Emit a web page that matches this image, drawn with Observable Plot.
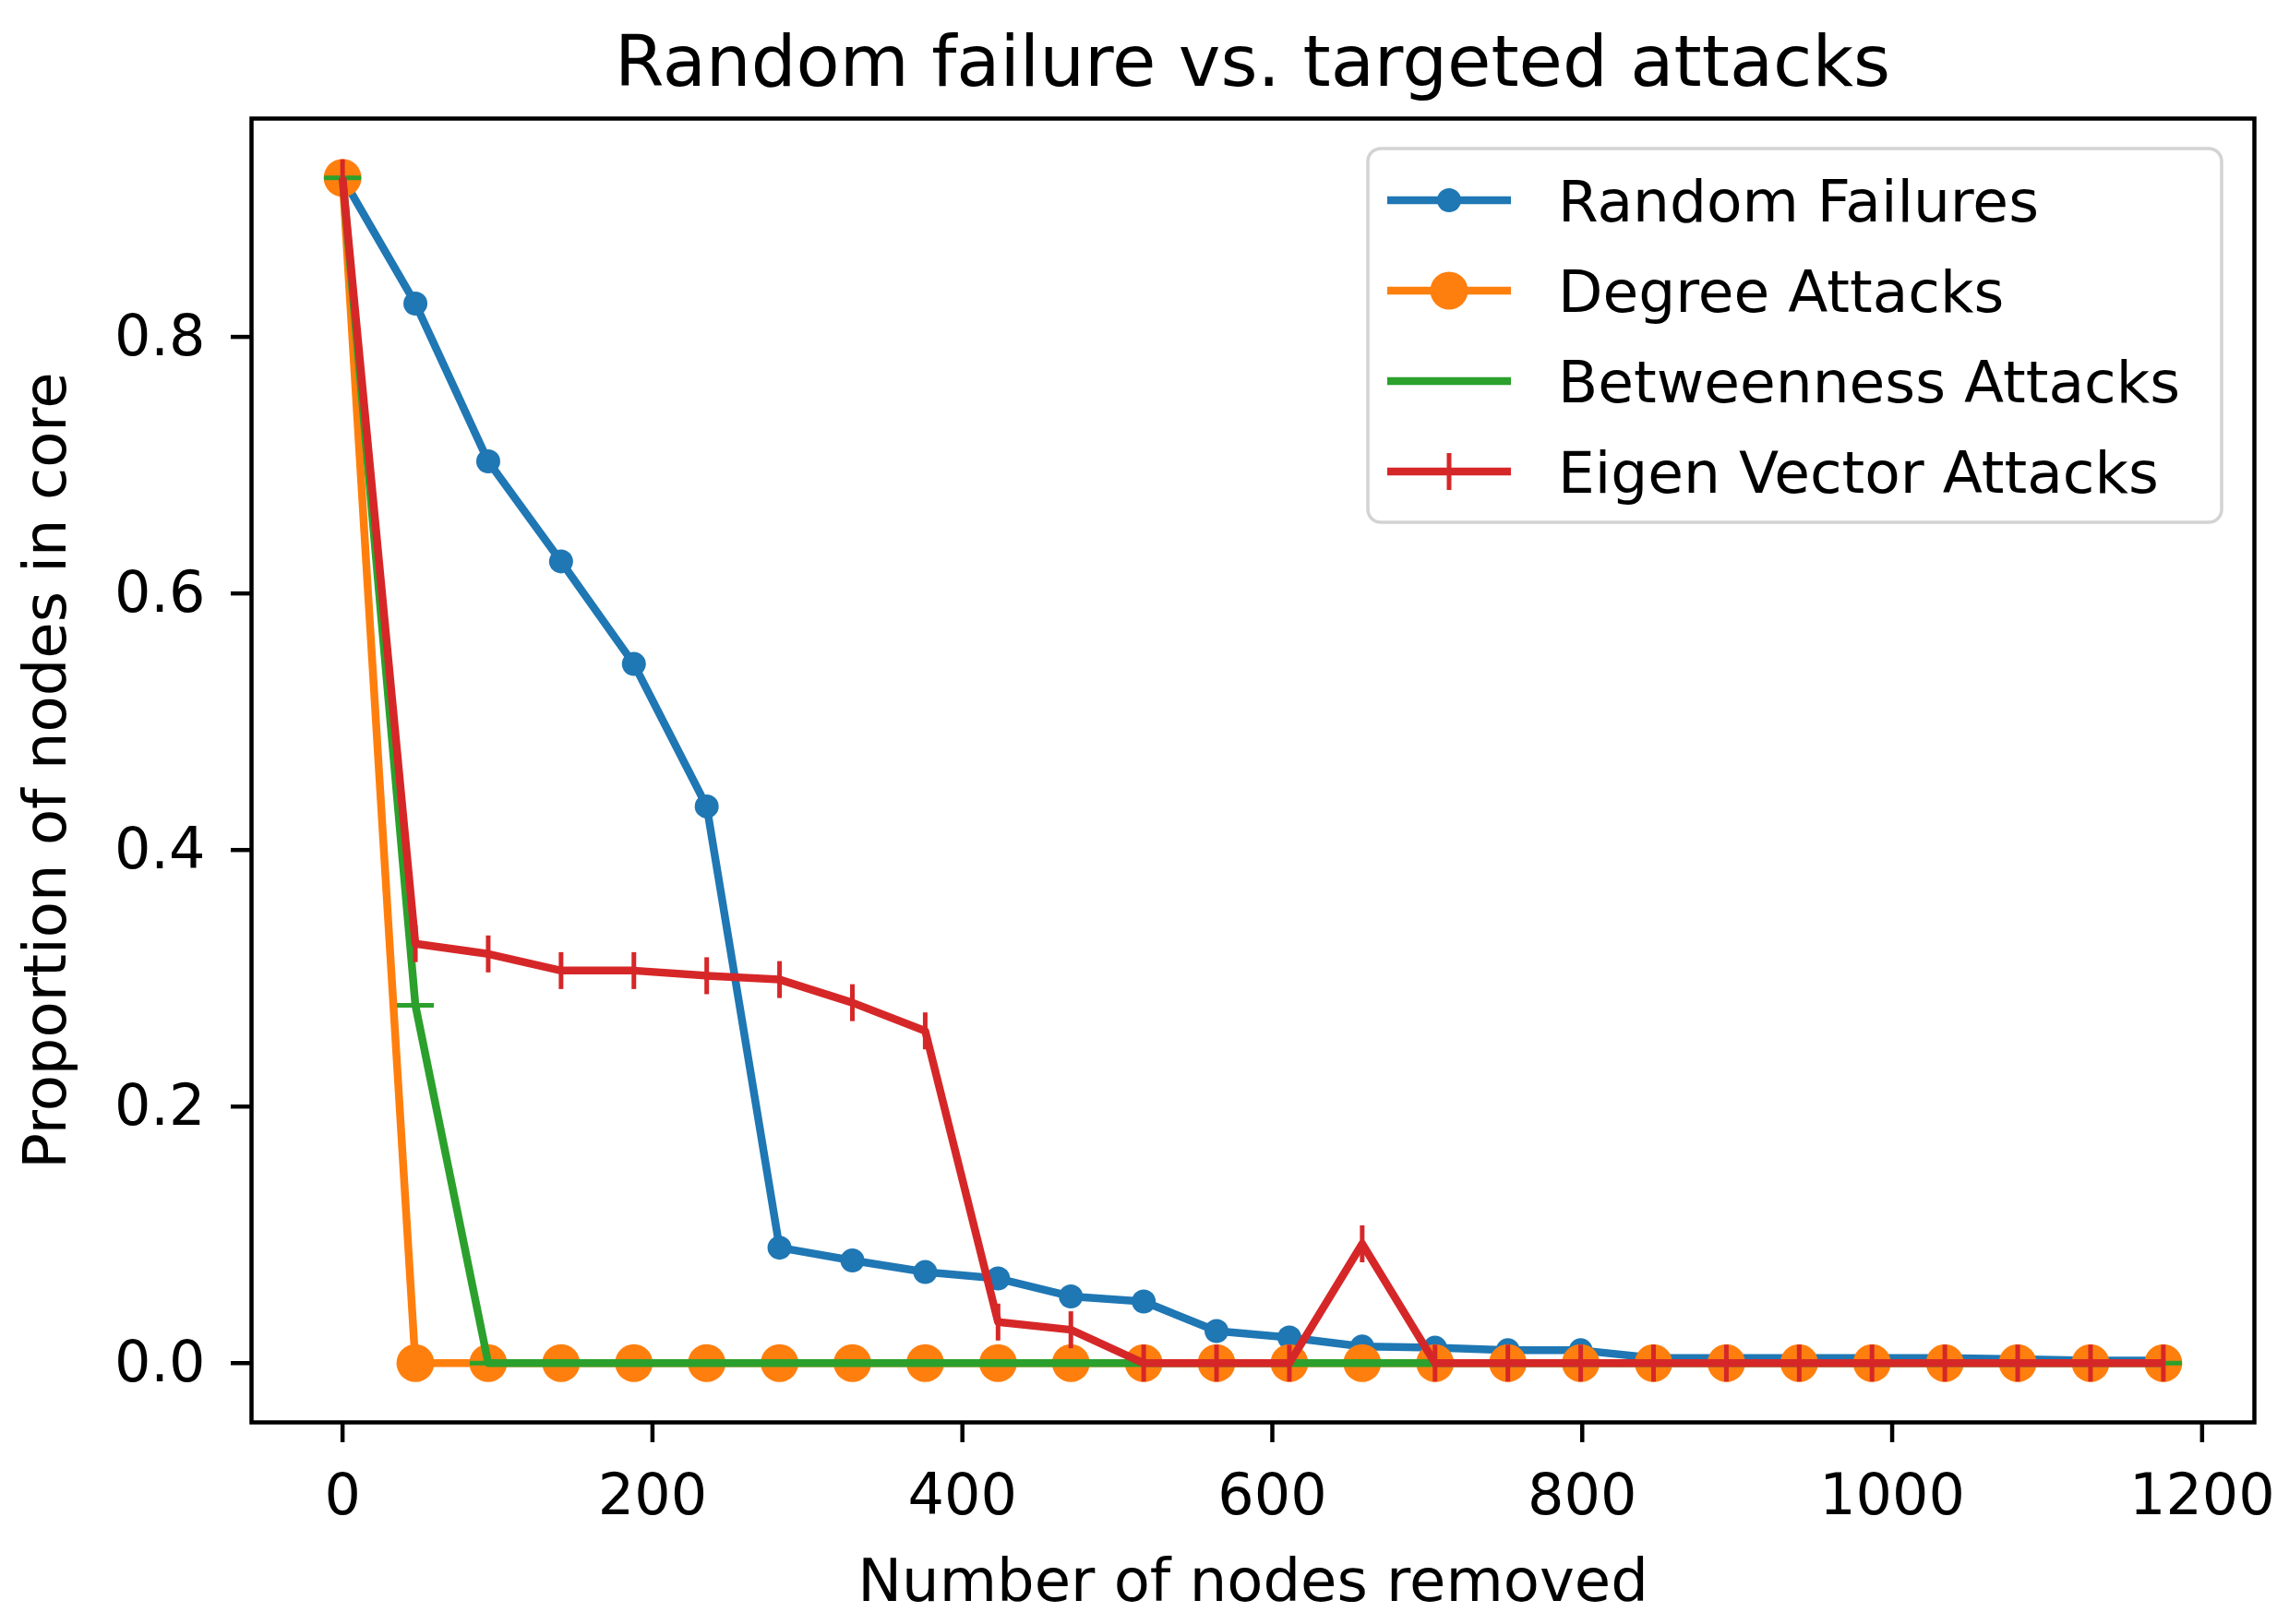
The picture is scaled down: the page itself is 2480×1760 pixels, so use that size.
<!DOCTYPE html>
<html>
<head>
<meta charset="utf-8">
<script src="https://cdn.jsdelivr.net/npm/d3@7"></script>
<script src="https://cdn.jsdelivr.net/npm/@observablehq/plot@0.6"></script>
<style>
  html, body { margin: 0; padding: 0; background: #ffffff; }
  #wrap { position: relative; width: 2480px; height: 1760px; overflow: hidden; font-family: "DejaVu Sans", sans-serif; background: #fff; }
  #title { position: absolute; left: 272px; width: 2170px; top: 28px; height: 77px; line-height: 77px; font-size: 77px; text-align: center; color: #000; white-space: nowrap; }
  #chart { position: absolute; left: 0; top: 110px; }
</style>
</head>
<body>
<div id="wrap">
  <div id="title">Random failure vs. targeted attacks</div>
  <div id="chart"></div>
</div>
<script>
// ---- data ----
const nodesRemoved = [0, 47, 94, 141, 188, 235, 282, 329, 376, 423, 470, 517, 564, 611, 658, 705, 752, 799, 846, 893, 940, 987, 1034, 1081, 1128, 1175];
const randomFailures = [0.924, 0.826, 0.703, 0.625, 0.545, 0.434, 0.090, 0.080, 0.071, 0.066, 0.052, 0.048, 0.025, 0.020, 0.013, 0.012, 0.010, 0.010, 0.004, 0.004, 0.004, 0.004, 0.004, 0.003, 0.002, 0.002];
const degreeAttacks = [0.924, 0, 0, 0, 0, 0, 0, 0, 0, 0, 0, 0, 0, 0, 0, 0, 0, 0, 0, 0, 0, 0, 0, 0, 0, 0];
const betweennessAttacks = [0.924, 0.279, 0, 0, 0, 0, 0, 0, 0, 0, 0, 0, 0, 0, 0, 0, 0, 0, 0, 0, 0, 0, 0, 0, 0, 0];
const eigenVectorAttacks = [0.924, 0.327, 0.319, 0.306, 0.306, 0.302, 0.299, 0.281, 0.259, 0.032, 0.026, 0, 0, 0, 0.093, 0, 0, 0, 0, 0, 0, 0, 0, 0, 0, 0];
const seriesNames = ["Random Failures", "Degree Attacks", "Betweenness Attacks", "Eigen Vector Attacks"];
const seriesColors = ["#1f77b4", "#ff7f0e", "#2ca02c", "#d62728"];
const seriesMarkers = ["point", "circle", "hline", "vline"];
const xTicks = [0, 200, 400, 600, 800, 1000, 1200];
const yTicks = [0.0, 0.2, 0.4, 0.6, 0.8];
const titleText = "Random failure vs. targeted attacks";
const xLabel = "Number of nodes removed";
const yLabel = "Proportion of nodes in core";

const seriesValues = [randomFailures, degreeAttacks, betweennessAttacks, eigenVectorAttacks];
document.getElementById("title").textContent = titleText;

// ---- custom matplotlib-like markers ----
const hlineSymbol = {draw(ctx, size) { const r = Math.sqrt(size / Math.PI); ctx.moveTo(-r, 0); ctx.lineTo(r, 0); }};
const vlineSymbol = {draw(ctx, size) { const r = Math.sqrt(size / Math.PI); ctx.moveTo(0, -r); ctx.lineTo(0, r); }};

const LINE_W = 8.5;
function markerOptions(kind, color) {
  if (kind === "point") return {r: 13, fill: color, stroke: "none", symbol: "circle"};
  if (kind === "circle") return {r: 20.5, fill: color, stroke: "none", symbol: "circle"};
  if (kind === "hline") return {r: 20, symbol: hlineSymbol, stroke: color, strokeWidth: 5, fill: "none"};
  return {r: 20, symbol: vlineSymbol, stroke: color, strokeWidth: 5, fill: "none"};
}

const marks = [];
seriesNames.forEach((name, k) => {
  const rows = nodesRemoved.map((x, i) => ({x, y: seriesValues[k][i], series: name}));
  marks.push(Plot.line(rows, {x: "x", y: "y", stroke: seriesColors[k], strokeWidth: LINE_W, strokeLinejoin: "round", strokeLinecap: "butt"}));
  marks.push(Plot.dot(rows, {x: "x", y: "y", ...markerOptions(seriesMarkers[k], seriesColors[k])}));
});

const xMin = d3.min(nodesRemoved), xMax = d3.max(nodesRemoved);
const yMin = 0, yMax = d3.max(seriesValues.flat());
const xPad = (xMax - xMin) * 0.05, yPad = (yMax - yMin) * 0.05;

const plot = Plot.plot({
  width: 2480,
  height: 1650,
  marginLeft: 272,
  marginRight: 38,
  marginTop: 18,
  marginBottom: 219,
  style: {fontFamily: "DejaVu Sans, sans-serif", fontSize: "62px", color: "#000", background: "#fff", overflow: "visible"},
  x: {domain: [xMin - xPad, xMax + xPad]},
  y: {domain: [yMin - yPad, yMax + yPad]},
  marks: [
    ...marks,
    Plot.frame({stroke: "#000", strokeWidth: 4.5}),
    Plot.axisX({ticks: xTicks, tickSize: 22, tickPadding: 33, strokeWidth: 4.5, fontSize: 62, label: null, tickFormat: d3.format("d")}),
    Plot.axisY({ticks: yTicks, tickSize: 22, tickPadding: 28, strokeWidth: 4.5, fontSize: 62, label: null, tickFormat: d3.format(".1f")}),
    Plot.text([xLabel], {text: d => d, frameAnchor: "bottom", dy: 173, lineAnchor: "middle", textAnchor: "middle", fontSize: 64, fill: "#000"}),
    Plot.text([yLabel], {text: d => d, frameAnchor: "left", dx: -222, rotate: -90, lineAnchor: "middle", textAnchor: "middle", fontSize: 64, fill: "#000"})
  ]
});

document.getElementById("chart").appendChild(plot);

// ---- legend (inside axes, upper right), built from the series arrays ----
const svg = d3.select(plot);
const lg = svg.append("g").attr("class", "legend").attr("text-anchor", "start");
const LX = 1482, LY = 51, LW = 925, LH = 405;
lg.append("rect").attr("x", LX).attr("y", LY).attr("width", LW).attr("height", LH)
  .attr("rx", 14).attr("fill", "#fff").attr("fill-opacity", 0.8)
  .attr("stroke", "#d3d3d3").attr("stroke-width", 3.5);
seriesNames.forEach((name, k) => {
  const cy = LY + 56 + k * 98;
  const color = seriesColors[k];
  const x1 = 1503, x2 = 1637, cx = (x1 + x2) / 2;
  lg.append("line").attr("x1", x1).attr("x2", x2).attr("y1", cy).attr("y2", cy)
    .attr("stroke", color).attr("stroke-width", LINE_W);
  const m = seriesMarkers[k];
  if (m === "point") lg.append("circle").attr("cx", cx).attr("cy", cy).attr("r", 13).attr("fill", color);
  else if (m === "circle") lg.append("circle").attr("cx", cx).attr("cy", cy).attr("r", 20.5).attr("fill", color);
  else if (m === "hline") lg.append("line").attr("x1", cx - 20).attr("x2", cx + 20).attr("y1", cy).attr("y2", cy).attr("stroke", color).attr("stroke-width", 5);
  else lg.append("line").attr("x1", cx).attr("x2", cx).attr("y1", cy - 20).attr("y2", cy + 20).attr("stroke", color).attr("stroke-width", 5);
  lg.append("text").attr("x", 1688).attr("y", cy).attr("dy", "0.36em")
    .attr("text-anchor", "start")
    .attr("font-size", 63).attr("font-family", "DejaVu Sans, sans-serif").attr("fill", "#000")
    .text(name);
});
</script>
</body>
</html>
